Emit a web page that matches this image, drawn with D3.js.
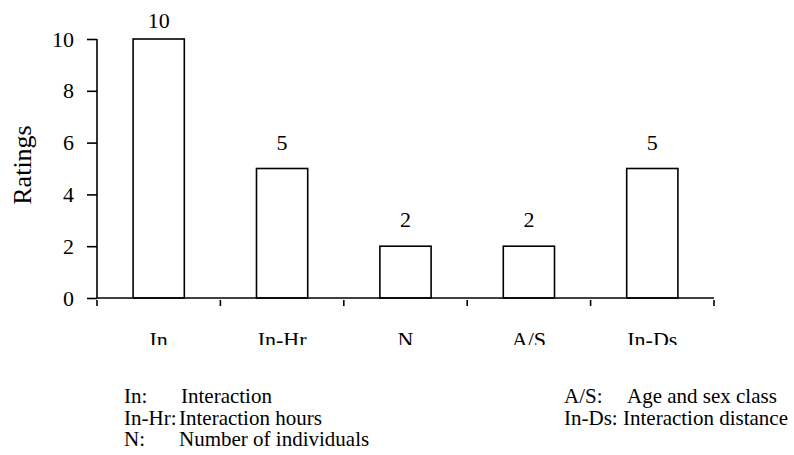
<!DOCTYPE html>
<html>
<head>
<meta charset="utf-8">
<script src="https://cdn.jsdelivr.net/npm/d3@7"></script>
<style>
  body { margin: 0; background: #fff; }
  svg { display: block; }
  svg text { font-family: "Liberation Serif", "Times New Roman", Times, "DejaVu Serif", serif !important; fill: #000; }
</style>
</head>
<body>
<div id="chart"></div>
<script>
// chart data
var categories = ["In", "In-Hr", "N", "A/S", "In-Ds"];
var ratings = [10, 5, 2, 2, 5];
var yTicks = [0, 2, 4, 6, 8, 10];
var legendLeft = [["In:", "Interaction"], ["In-Hr:", "Interaction hours"], ["N:", "Number of individuals"]];
var legendRight = [["A/S:", "Age and sex class"], ["In-Ds:", "Interaction distance"]];

var width = 794, height = 455;
var plotLeft = 97, plotRight = 714, plotTop = 39, plotBase = 298;

var svg = d3.select("#chart").append("svg")
	.attr("width", width)
	.attr("height", height)
	.attr("font-family", "Liberation Serif, Times New Roman, serif");

var x = d3.scaleBand()
	.domain(categories)
	.range([plotLeft, plotRight])
	.paddingInner(0.585)
	.paddingOuter(0.2925);

var y = d3.scaleLinear()
	.domain([0, 10])
	.range([plotBase, plotTop]);

// bars
svg.selectAll("rect.bar")
	.data(ratings)
	.enter()
	.append("rect")
	.attr("class", "bar")
	.attr("x", function(d, i) { return x(categories[i]); })
	.attr("y", function(d) { return y(d); })
	.attr("width", x.bandwidth())
	.attr("height", function(d) { return plotBase - y(d); })
	.attr("fill", "#fff")
	.attr("stroke", "#000")
	.attr("stroke-width", 1.6);

// value labels
svg.selectAll("text.val")
	.data(ratings)
	.enter()
	.append("text")
	.attr("class", "val")
	.attr("x", function(d, i) { return x(categories[i]) + x.bandwidth() / 2; })
	.attr("y", function(d) { return Math.max(y(d) - 19, 28); })
	.attr("text-anchor", "middle")
	.style("font-size", "22px")
	.text(function(d) { return d; });

// y axis
var yAxis = d3.axisLeft(y).tickValues(yTicks).tickSize(10).tickPadding(13);
var gy = svg.append("g")
	.attr("transform", "translate(" + plotLeft + ",0)")
	.call(yAxis);
gy.select(".domain").attr("d", "M0," + plotTop + "V" + plotBase).attr("stroke-width", 1.6);
gy.selectAll(".tick line").attr("stroke-width", 1.6);
gy.selectAll(".tick text").style("font-size", "22px");

// x axis line and boundary ticks
svg.append("line")
	.attr("x1", plotLeft).attr("x2", plotRight)
	.attr("y1", plotBase).attr("y2", plotBase)
	.attr("stroke", "#000").attr("stroke-width", 1.6);

var step = x.step();
svg.selectAll("line.xtick")
	.data(d3.range(categories.length + 1))
	.enter()
	.append("line")
	.attr("class", "xtick")
	.attr("x1", function(i) { return plotLeft + i * step; })
	.attr("x2", function(i) { return plotLeft + i * step; })
	.attr("y1", plotBase + 2)
	.attr("y2", plotBase + 8)
	.attr("stroke", "#000").attr("stroke-width", 1.6);

// category labels (clipped at the bottom like the original)
svg.append("clipPath").attr("id", "xclip")
	.append("rect").attr("x", 0).attr("y", 0).attr("width", width).attr("height", 345);

svg.append("g").attr("clip-path", "url(#xclip)")
	.selectAll("text")
	.data(categories)
	.enter()
	.append("text")
	.attr("x", function(d) { return x(d) + x.bandwidth() / 2; })
	.attr("y", 347)
	.attr("text-anchor", "middle")
	.style("font-size", "22px")
	.text(function(d) { return d; });

// y title
svg.append("text")
	.attr("transform", "translate(31,165) rotate(-90)")
	.attr("text-anchor", "middle")
	.style("font-size", "26px")
	.text("Ratings");

// legend
function legend(rows, x0, x1) {
	var g = svg.append("g").style("font-size", "21px");
	rows.forEach(function(r, i) {
		var yy = 403 + i * 21.5;
		g.append("text").attr("x", x0).attr("y", yy).text(r[0]);
		g.append("text").attr("x", x1[i]).attr("y", yy).text(r[1]);
	});
}
legend(legendLeft, 124, [181, 179, 179]);
legend(legendRight, 564, [627, 623]);
</script>
</body>
</html>
